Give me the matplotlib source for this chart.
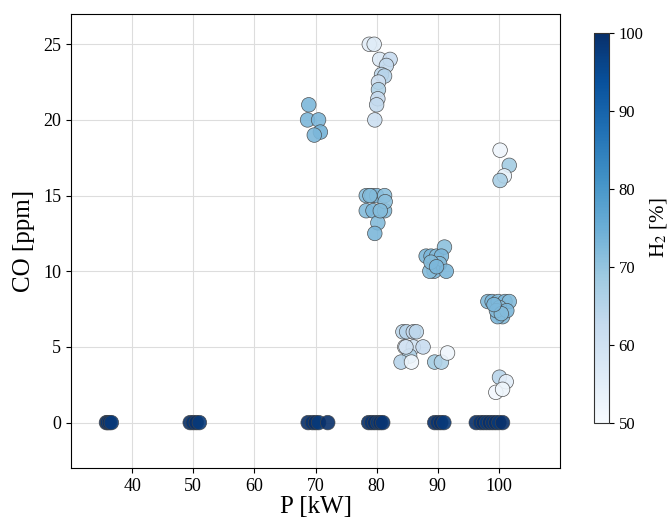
import matplotlib
matplotlib.use("Agg")
import matplotlib.pyplot as plt
import numpy as np

plt.rcParams['font.family'] = ['Liberation Serif', 'DejaVu Serif']
plt.rcParams['mathtext.fontset'] = 'stix'

# Power [kW]
P = [
    # zero CO, high H2
    35.8, 36.0, 36.3, 36.6,
    49.5, 50.0, 50.5, 51.0,
    68.8, 69.5, 70.0, 70.5, 72.0,
    78.7, 79.2, 79.7, 80.2, 80.6, 81.0,
    89.5, 90.0, 90.5, 91.0,
    96.3, 97.0, 97.5, 98.0, 98.5, 99.0, 99.5, 100.0, 100.6,
    # ~70 kW cluster
    68.9, 68.7, 70.5, 70.8, 69.8,
    # ~80 kW upper cluster
    78.8, 79.6, 80.5, 82.2, 81.6, 80.8, 81.3, 80.3, 80.3, 80.2, 80.0, 79.7,
    # ~80 kW 12-15 ppm
    78.3, 79.2, 80.0, 81.3, 78.3, 79.4, 81.3, 81.4, 80.2, 79.7, 78.9, 80.6,
    # ~90 kW 10-11.5 ppm
    88.1, 88.9, 89.8, 91.1, 90.6, 90.3, 89.4, 88.7, 91.4, 88.9, 89.8,
    # ~100 kW 7-8 ppm
    98.2, 98.9, 99.9, 101.0, 101.7, 100.1, 100.6, 99.8, 99.6, 101.3, 100.4, 99.2,
    # ~85 kW 4-6 ppm
    84.3, 84.9, 86.0, 86.5, 84.6, 86.0, 87.6, 85.4, 84.0, 85.7, 89.5, 90.6, 91.6, 84.8,
    # ~100 kW 16-18 ppm
    100.2, 101.7, 100.9, 100.2,
    # ~100 kW 2-3 ppm
    100.1, 101.2, 99.5, 100.6,
]

# CO [ppm]
CO = [
    0, 0, 0, 0,
    0, 0, 0, 0,
    0, 0, 0, 0, 0,
    0, 0, 0, 0, 0, 0,
    0, 0, 0, 0,
    0, 0, 0, 0, 0, 0, 0, 0, 0,
    21.0, 20.0, 20.0, 19.2, 19.0,
    25.0, 25.0, 24.0, 24.0, 23.6, 23.0, 22.9, 22.5, 22.0, 21.4, 21.0, 20.0,
    15.0, 15.0, 15.0, 15.0, 14.0, 14.0, 14.0, 14.6, 13.2, 12.5, 15.0, 14.0,
    11.0, 11.0, 11.0, 11.6, 11.0, 10.5, 10.0, 10.0, 10.0, 10.6, 10.3,
    8.0, 8.0, 8.0, 8.0, 8.0, 7.6, 7.0, 7.0, 7.4, 7.4, 7.2, 7.8,
    6.0, 6.0, 6.0, 6.0, 5.0, 5.0, 5.0, 4.4, 4.0, 4.0, 4.0, 4.0, 4.6, 5.0,
    18.0, 17.0, 16.3, 16.0,
    3.0, 2.7, 2.0, 2.2,
]

# H2 [%]
H2 = [
    100, 99, 100, 98,
    100, 99, 100, 98,
    100, 99, 100, 98, 100,
    100, 99, 100, 98, 100, 99,
    100, 99, 100, 98,
    100, 99, 100, 98, 100, 99, 100, 98, 100,
    73, 73, 73, 74, 73,
    55, 56, 57, 62, 63, 64, 65, 60, 66, 62, 63, 61,
    72, 72, 73, 71, 72, 73, 72, 71, 72, 73, 72, 72,
    73, 73, 72, 71, 73, 72, 73, 72, 73, 72, 73,
    72, 73, 72, 73, 72, 71, 72, 73, 72, 73, 72, 73,
    64, 65, 62, 64, 52, 60, 62, 66, 65, 52, 68, 66, 52, 60,
    52, 68, 54, 67,
    65, 55, 51, 52,
]

fig = plt.figure(figsize=(6.7, 5.27), dpi=100)
ax = fig.add_axes([71/670, 1-468/527, (560-71)/670, (468-14)/527])
cax = fig.add_axes([594/670, 1-423/527, 15/670, (423-33)/527])

ax.grid(True, color='#dddddd', linewidth=0.8, zorder=0)
ax.set_axisbelow(True)
sc = ax.scatter(P, CO, c=H2, cmap='Blues', vmin=50, vmax=100, s=110,
                edgecolors='#444444', linewidths=0.5, alpha=0.9, zorder=3)
ax.set_xlim(30, 110)
ax.set_ylim(-3, 27)
ax.set_xticks([40, 50, 60, 70, 80, 90, 100])
ax.set_yticks([0, 5, 10, 15, 20, 25])
ax.tick_params(labelsize=13)
ax.set_xlabel('P [kW]', fontsize=18, labelpad=1)
ax.set_ylabel('CO [ppm]', fontsize=18, labelpad=6)
for s in ax.spines.values():
    s.set_color('black')

cb = fig.colorbar(sc, cax=cax)
cb.set_ticks([50, 60, 70, 80, 90, 100])
cb.ax.tick_params(labelsize=12)
cb.set_label('H$_2$ [%]', fontsize=15, labelpad=3)
cb.solids.set_alpha(1)
cb.outline.set_edgecolor('#333333')

fig.savefig('out.png', dpi=100)
